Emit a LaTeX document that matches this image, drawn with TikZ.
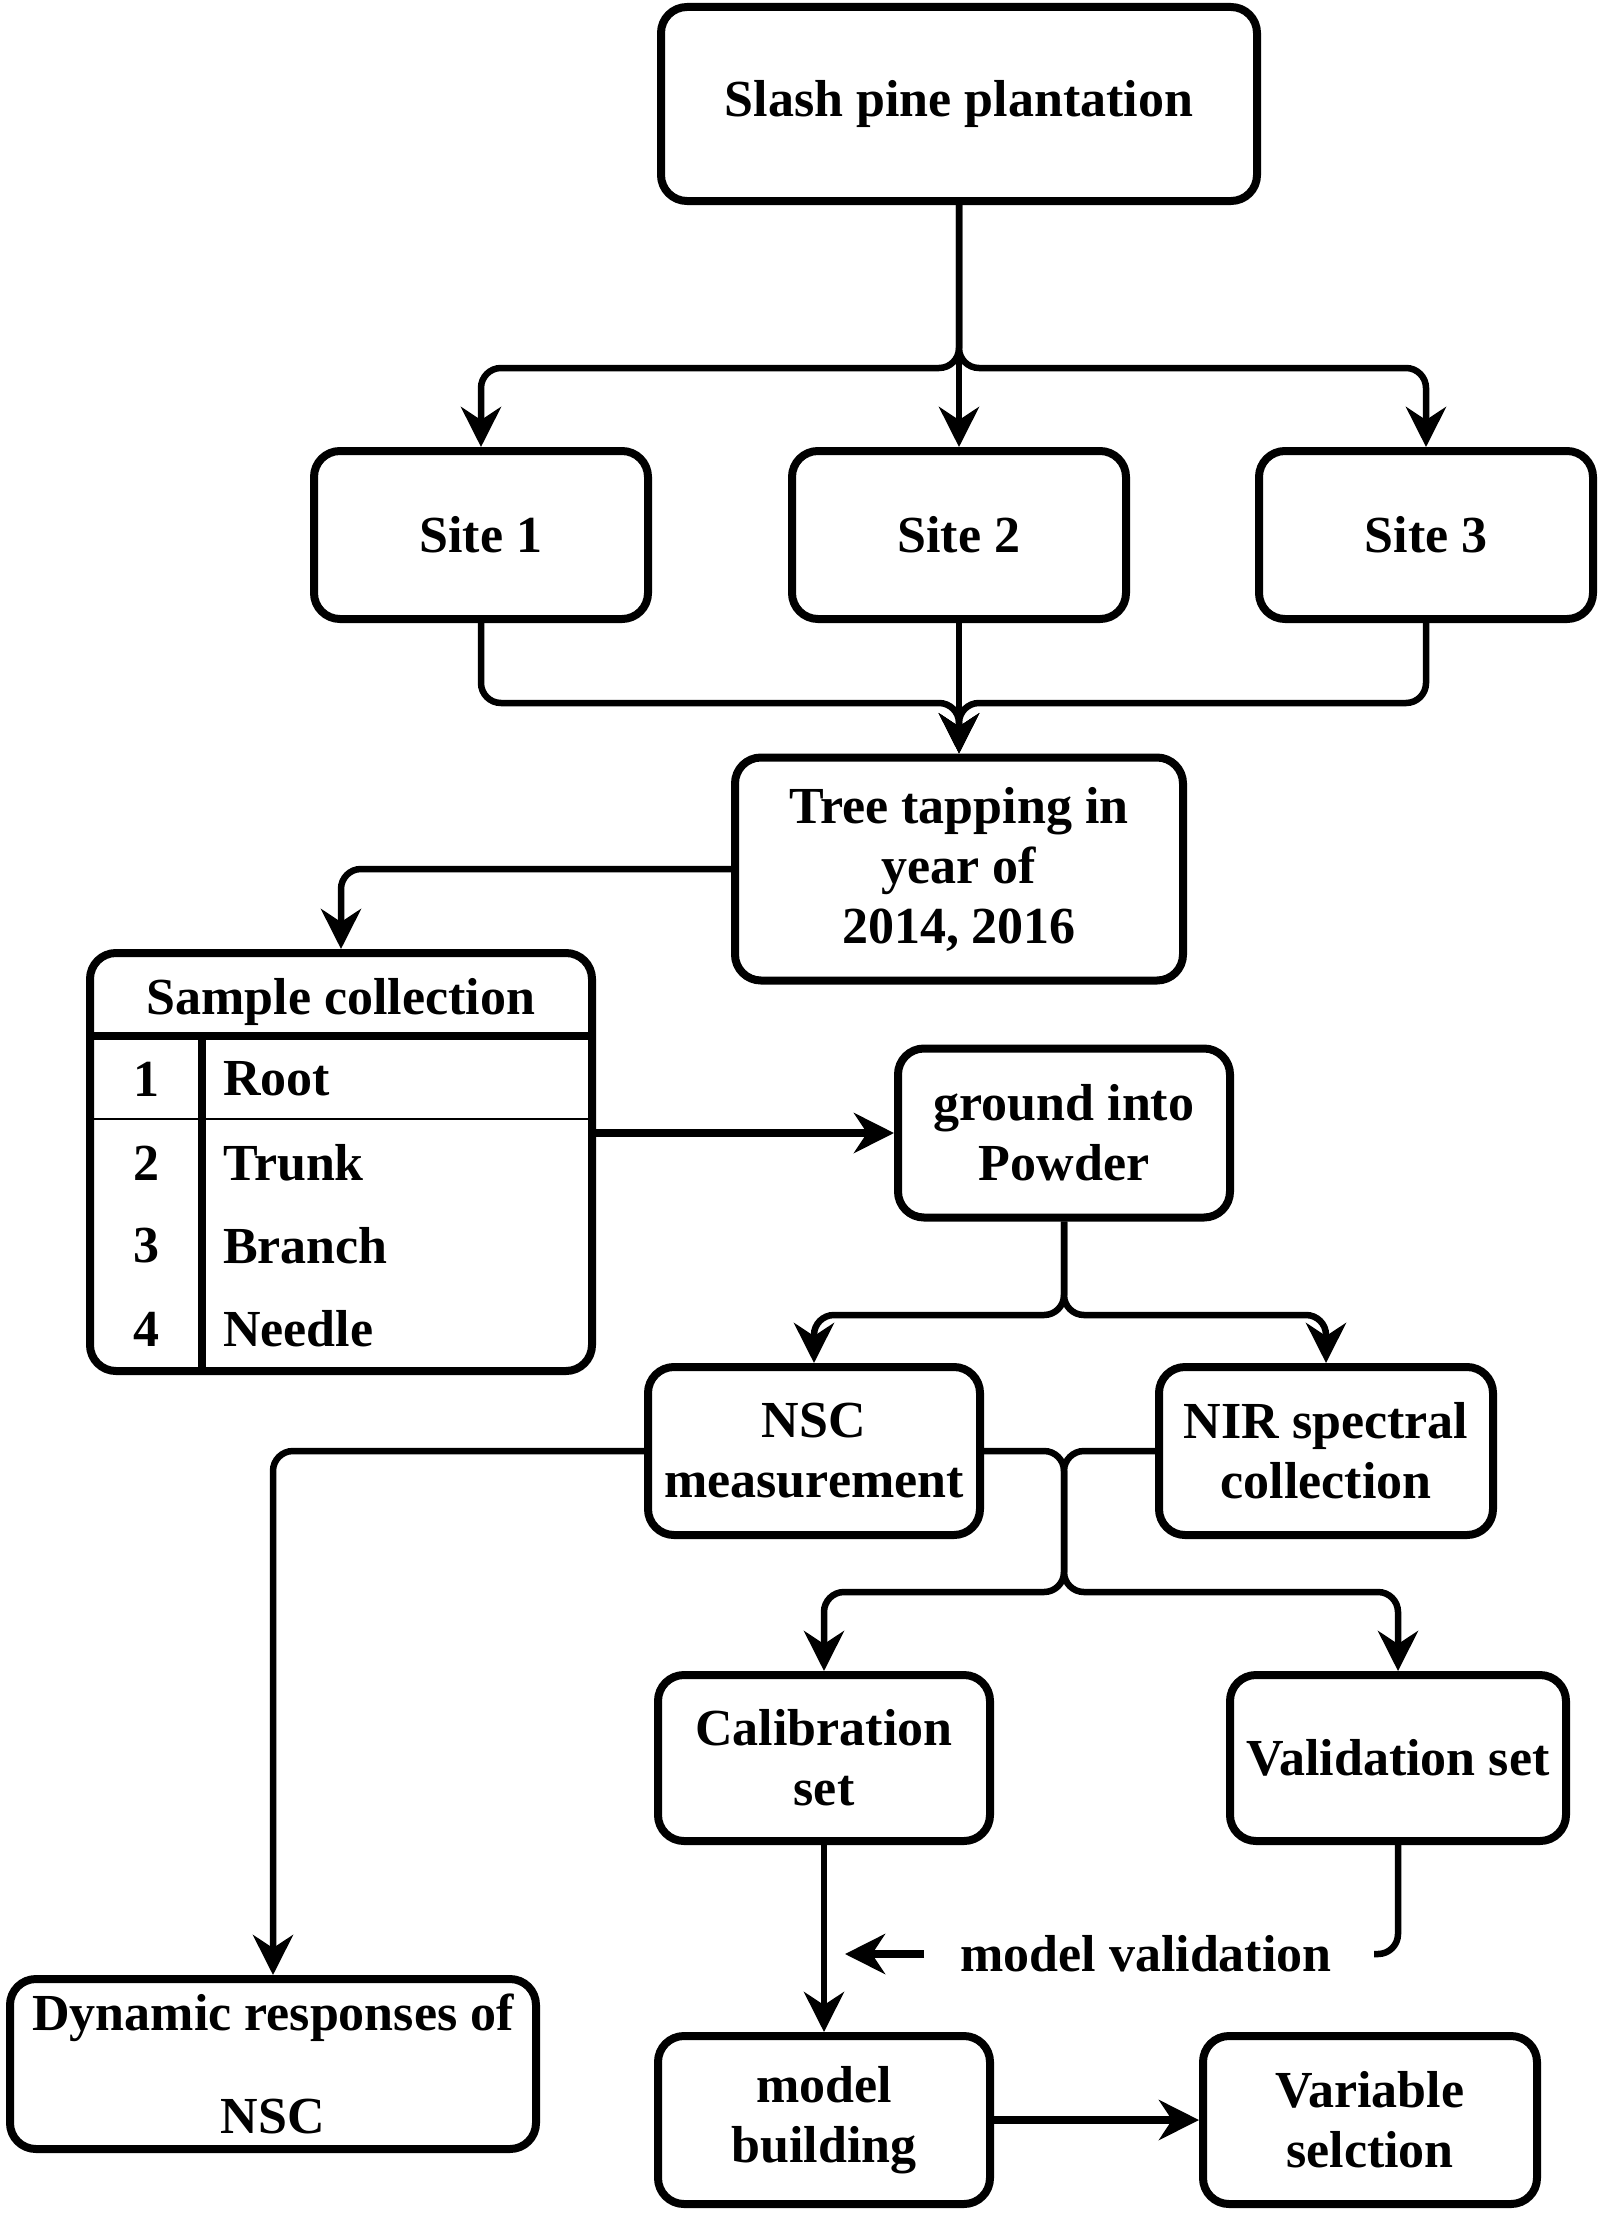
\documentclass[tikz,border=0pt]{standalone}
\usepackage{fontspec}
\setmainfont{Liberation Serif}
\usetikzlibrary{arrows.meta,calc}
\begin{document}
\begin{tikzpicture}[x=1pt,y=-1pt,
  box/.style={draw, line width=8pt, rounded corners=26pt, align=center, inner sep=0pt,
    font=\bfseries\fontsize{52}{60}\selectfont},
  conn/.style={line width=6.5pt, rounded corners=20pt},
  arr/.style={conn, -{Stealth[length=40pt,width=40pt,inset=13pt]}},
  lbl/.style={inner sep=0pt, font=\bfseries\fontsize{52}{60}\selectfont}]
\useasboundingbox (0,0) rectangle (1600,2213);

% nodes
\node[box, minimum width=596pt, minimum height=194pt] (top) at (959,104) {Slash pine plantation};
\node[box, minimum width=334pt, minimum height=168pt] (s1) at (481,535) {Site 1};
\node[box, minimum width=334pt, minimum height=168pt] (s2) at (959,535) {Site 2};
\node[box, minimum width=334pt, minimum height=168pt] (s3) at (1426,535) {Site 3};
\node[box, minimum width=448pt, minimum height=223pt] (t) at (959,869) {Tree tapping in\\year of\\2014, 2016};
\node[box, minimum width=502pt, minimum height=418pt] (sample) at (341,1162) {};
\node[box, minimum width=332pt, minimum height=169pt] (g) at (1064,1133) {ground into\\Powder};
\node[box, minimum width=332pt, minimum height=168pt] (nsc) at (814,1451) {NSC\\measurement};
\node[box, minimum width=334pt, minimum height=168pt] (nir) at (1326,1451) {NIR spectral\\collection};
\node[box, minimum width=332pt, minimum height=166pt] (cal) at (824,1758) {Calibration\\set};
\node[box, minimum width=336pt, minimum height=166pt] (val) at (1398,1758) {Validation set};
\node[box, minimum width=526pt, minimum height=170pt] (dyn) at (273,2064) {Dynamic responses of\\[43pt]NSC};
\node[box, minimum width=332pt, minimum height=168pt] (mb) at (824,2120) {model\\building};
\node[box, minimum width=334pt, minimum height=168pt] (var) at (1370,2120) {Variable\\selction};

% sample collection internals
\node[lbl] (sh) at (341,1002) {Sample collection};
\draw[line width=8pt] (sample.west |- 0,1036) -- (sample.east |- 0,1036);
\draw[line width=8pt] (202,1036) -- (sample.south -| 202,0);
\draw[line width=2.5pt] (sample.west |- 0,1119) -- (sample.east |- 0,1119);
\node[lbl] (n1) at (146,1079) {1};
\node[lbl] (n2) at (146,1163) {2};
\node[lbl] (n3) at (146,1246) {3};
\node[lbl] (n4) at (146,1329) {4};
\node[lbl, anchor=west] (r1) at (223,1079) {Root};
\node[lbl, anchor=west] (r2) at (223,1163) {Trunk};
\node[lbl, anchor=west] (r3) at (223,1246) {Branch};
\node[lbl, anchor=west] (r4) at (223,1329) {Needle};

% connectors
\coordinate (j1) at (959,368);
\draw[arr] (top.south) -- (j1) -| (s1.north);
\draw[arr] (top.south) -- (s2.north);
\draw[arr] (top.south) -- (j1) -| (s3.north);

\coordinate (j2) at (959,703);
\draw[arr] (s1.south) |- (j2) -- (t.north);
\draw[arr] (s2.south) -- (t.north);
\draw[arr] (s3.south) |- (j2) -- (t.north);

\draw[arr] (t.west) -| (sample.north);
\draw[arr, line width=7.5pt] (sample.east |- g.west) -- (g.west);

\coordinate (j3) at (1064,1315);
\draw[arr] (g.south) -- (j3) -| (nsc.north);
\draw[arr] (g.south) -- (j3) -| (nir.north);

\coordinate (m1) at (1064,1451);
\coordinate (m2) at (1064,1592);
\draw[arr] (nsc.east) -- (m1) -- (m2) -| (cal.north);
\draw[arr] (nir.west) -- (m1) -- (m2) -| (val.north);

\draw[arr] (nsc.west) -| (dyn.north);
\draw[arr] (cal.south) -- (mb.north);
\draw[arr, line width=7.5pt] (mb.east) -- (var.west);

\node[lbl] (mv) at (1146,1954) {model validation};
\coordinate (ve) at (1374,1954);
\draw[conn] (val.south) |- (ve);
\coordinate (mvt) at (845,1954);
\draw[arr, line width=7.5pt] ([xshift=-36pt]mv.west) -- (mvt);
\end{tikzpicture}
\end{document}
